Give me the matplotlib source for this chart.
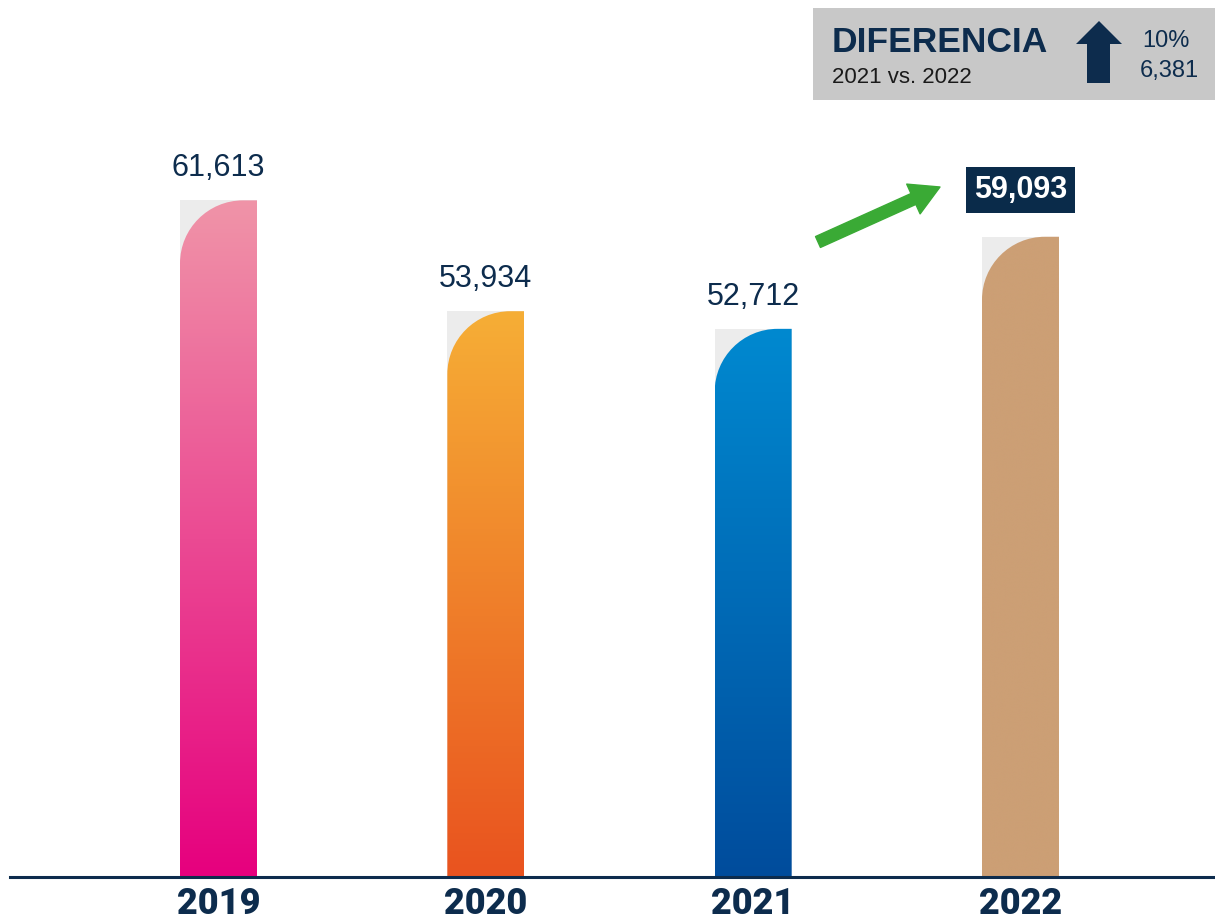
import numpy as np
import matplotlib
matplotlib.use('Agg')
import matplotlib.pyplot as plt
from matplotlib.path import Path
from matplotlib.patches import PathPatch, Rectangle, FancyArrowPatch, Polygon, ArrowStyle
from matplotlib import transforms as mtransforms
from matplotlib.colors import LinearSegmentedColormap

# ---------------- data ----------------
years = ['2019', '2020', '2021', '2022']
values = [61613, 53934, 52712, 59093]
value_labels = ['61,613', '53,934', '52,712', '59,093']
top_colors = ['#f094a8', '#f6ae36', '#0089d0', '#cc9f75']
bottom_colors = ['#e6007e', '#e9531f', '#004c9c', '#cc9f75']
diff_title = 'DIFERENCIA'
diff_subtitle = '2021 vs. 2022'
diff_pct = '10%'
diff_abs = '6,381'

NAVY = '#0d2c4d'
W, H = 1215, 924
fig = plt.figure(figsize=(W / 100, H / 100), dpi=100)
fig.patch.set_facecolor('white')
# pixel coordinates (origin top-left) for decorations
px = mtransforms.Affine2D().scale(1 / W, -1 / H).translate(0, 1) + fig.transFigure

ax = fig.add_axes([10 / W, (H - 877) / H, (W - 10) / W, 877 / H])
STEP = 267.33
Y_MIN = 14730
UNITS_PER_PX = 69.29
ax.set_xlim(-(218.5 - 10) / STEP, (W - 218.5) / STEP)
ax.set_ylim(Y_MIN, Y_MIN + 877 * UNITS_PER_PX)

bar_w = 0.288
rx = 63 / STEP
ry = 63 * UNITS_PER_PX
k = 0.5523
for i, (v, ct, cb) in enumerate(zip(values, top_colors, bottom_colors)):
    x0, x1 = i - bar_w / 2, i + bar_w / 2
    ax.add_patch(Rectangle((x0, Y_MIN), bar_w, v - Y_MIN, facecolor='#ececec',
                           edgecolor='none', zorder=1))
    verts = [(x0, Y_MIN), (x1, Y_MIN), (x1, v), (x0 + rx, v),
             (x0 + rx - k * rx, v), (x0, v - ry + k * ry), (x0, v - ry),
             (x0, Y_MIN)]
    codes = [Path.MOVETO, Path.LINETO, Path.LINETO, Path.LINETO,
             Path.CURVE4, Path.CURVE4, Path.CURVE4, Path.CLOSEPOLY]
    patch = PathPatch(Path(verts, codes), facecolor='none', edgecolor='none')
    ax.add_patch(patch)
    cmap = LinearSegmentedColormap.from_list(f'g{i}', [cb, ct])
    grad = np.linspace(0, 1, 256).reshape(-1, 1)
    im = ax.imshow(grad, extent=[x0, x1, Y_MIN, v], origin='lower', cmap=cmap,
                   aspect='auto', interpolation='bicubic', zorder=2)
    im.set_clip_path(patch)

ax.set_xlim(-(218.5 - 10) / STEP, (W - 218.5) / STEP)
ax.set_ylim(Y_MIN, Y_MIN + 877 * UNITS_PER_PX)

# value labels
for i, (v, lab) in enumerate(zip(values, value_labels)):
    if i < 3:
        ax.annotate(lab, (i, v), xytext=(0, 17.3), textcoords='offset points',
                    ha='center', va='baseline', fontsize=22, color=NAVY,
                    family='Liberation Sans')
    else:
        ax.annotate(lab, (i, v), xytext=(0, 33.8), textcoords='offset points',
                    ha='center', va='center', fontsize=22, color='white',
                    fontweight='bold', family='Liberation Sans',
                    bbox=dict(boxstyle='square,pad=0.26', facecolor='#0a2b4a',
                              edgecolor='none'))

# year labels
blend = mtransforms.blended_transform_factory(ax.transData, px)
for i, y in enumerate(years):
    ax.text(i, 914, y, transform=blend, ha='center', va='baseline',
            fontsize=26, fontweight='black', color=NAVY, family='Roboto',
            clip_on=False)

for s in ['top', 'left', 'right']:
    ax.spines[s].set_visible(False)
ax.spines['bottom'].set_color(NAVY)
ax.spines['bottom'].set_linewidth(2.2)
ax.set_xticks([])
ax.set_yticks([])
ax.patch.set_alpha(0)

# green arrow
arrow = FancyArrowPatch(posA=(818, 242), posB=(940, 187), transform=px,
                        arrowstyle=ArrowStyle.Simple(head_length=21, head_width=23.5,
                                                     tail_width=8.6),
                        mutation_scale=1, color='#3aaa35', shrinkA=0, shrinkB=0)
fig.add_artist(arrow)

# difference box
fig.add_artist(Rectangle((813, 8), 402, 92, transform=px, facecolor='#c8c8c8',
                         edgecolor='none'))
fig.text(832, 52, diff_title, transform=px, fontsize=25.5, fontweight='bold',
         color=NAVY, family='Liberation Sans', va='baseline', ha='left')
fig.text(832, 83, diff_subtitle, transform=px, fontsize=16, color='#1a1a1a',
         family='Liberation Sans', va='baseline', ha='left')
fig.text(1142, 47, diff_pct, transform=px, fontsize=17, color=NAVY,
         family='Liberation Sans', va='baseline', ha='left')
fig.text(1140, 77, diff_abs, transform=px, fontsize=17, color=NAVY,
         family='Liberation Sans', va='baseline', ha='left')
fig.add_artist(Polygon([(1099, 21), (1122, 44), (1110, 44), (1110, 83),
                        (1087, 83), (1087, 44), (1076, 44)], closed=True,
                       transform=px, facecolor=NAVY, edgecolor='none'))

fig.savefig('out.png', dpi=100)
